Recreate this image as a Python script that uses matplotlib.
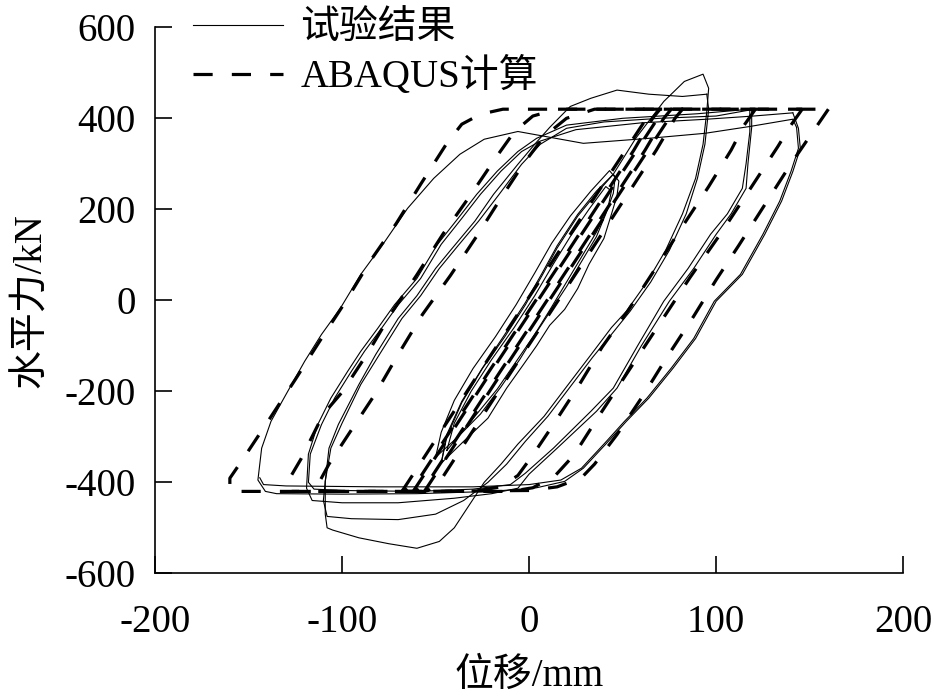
import matplotlib
matplotlib.use("Agg")
import matplotlib.pyplot as plt

plt.rcParams['font.family'] = ['Liberation Serif', 'Noto Sans CJK SC']
plt.rcParams['axes.unicode_minus'] = False

# ---- test results (solid): displacement mm / force kN ----
lens1_x = [-47, -44, -36, -25, -13, -2, 7, 15, 26, 36, 45, 48, 47, 44, 40, 32, 26, 19, 11, 4, -3, -12, -22, -35, -47]
lens1_y = [-358, -295, -222, -149, -75, -5, 60, 120, 189, 240, 277, 262, 230, 189, 136, 79, 26, -20, -55, -100, -141, -193, -259, -310, -358]
lens2_x = [-50, -47, -40, -30, -18, -7, 3, 12, 22, 33, 43, 46, 45, 41, 36, 28, 20, 12, 4, -5, -15, -26, -38, -50]
lens2_y = [-345, -290, -220, -150, -80, -10, 60, 125, 185, 240, 285, 270, 235, 190, 140, 85, 30, -20, -70, -130, -190, -250, -300, -345]
lens3_x = [-44, -40, -31, -20, -8, 3, 13, 22, 32, 41, 44, 42, 36, 28, 20, 12, 3, -7, -17, -29, -44]
lens3_y = [-330, -270, -200, -130, -60, 10, 80, 140, 200, 250, 240, 200, 150, 95, 40, -15, -75, -135, -195, -255, -330]

cyc95_x = [-47, -44, -36, -25, -13, -2, 7, 15, 26, 36, 45, 57, 72, 83, 93, 96, 95, 93, 89, 82, 73, 63, 52,
           44, 33, 20, 8, -6, -15, -24, -32, -40, -48, -60, -75, -91, -105, -108, -109, -109, -107, -102,
           -91, -82, -70, -60, -50, -42, -29, -19, -6, 3, 11, 22, 33, 47, 64, 82, 95]
cyc95_y = [-358, -300, -225, -150, -80, -10, 55, 115, 185, 235, 277, 356, 437, 481, 497, 466, 415, 343, 268, 190, 110, 40, -24,
           -60, -120, -190, -255, -316, -360, -400, -450, -500, -530, -545, -535, -522, -505, -500, -470, -398, -325, -273,
           -185, -119, -40, 10, 70, 110, 174, 233, 299, 343, 380, 426, 444, 462, 453, 448, 453]

cyc95b_x = [95, 96, 94, 90, 84, 75, 65, 54, 45, 34, 22, 10, -2, -12, -22, -35, -50, -70, -95, -108, -110, -109, -106,
            -100, -90, -80, -68, -58, -48, -38, -27, -16, -4, 6, 20, 40, 70, 100, 119]
cyc95b_y = [453, 420, 343, 268, 190, 110, 40, -24, -70, -125, -190, -255, -310, -360, -400, -440, -470, -482, -480, -475, -440, -398, -325,
            -270, -185, -119, -40, 10, 70, 120, 174, 233, 299, 343, 378, 392, 400, 405, 419]

cyc120_x = [119, 119, 117, 116, 108, 100, 88, 75, 60, 47, 36, 15, 0, -6, -20, -40, -70, -100, -116, -119, -118, -113,
            -106, -97, -90, -81, -72, -60, -49, -38, -28, -17, -6, 4, 20, 50, 90, 118]
cyc120_y = [419, 380, 300, 246, 190, 145, 70, -2, -100, -193, -244, -325, -382, -413, -425, -435, -445, -445, -440, -413, -338, -273,
            -215, -156, -112, -62, -10, 48, 123, 180, 233, 284, 327, 356, 385, 400, 410, 420]

cyc120b_x = [118, 118, 116, 114, 106, 97, 85, 72, 58, 45, 33, 13, -2, -10, -30, -60, -100, -115, -118, -117, -111,
             -104, -95, -88, -79, -70, -58, -47, -36, -26, -15, -4, 6, 25, 60, 95, 120, 141]
cyc120b_y = [420, 370, 300, 246, 190, 145, 70, -2, -100, -193, -244, -325, -380, -405, -415, -420, -418, -415, -400, -338, -273,
             -215, -156, -112, -62, -10, 48, 123, 180, 233, 284, 327, 350, 375, 390, 398, 405, 412]

cyc143_x = [141, 144, 145, 141, 135, 126, 114, 100, 89, 77, 64, 52, 41, 29, 19, 4, -20, -60, -100, -135, -141, -145,
            -143, -138, -130, -120, -111, -101, -90, -77, -65, -51, -37, -24, -6, 29, 64, 94, 118, 141, 143]
cyc143_y = [412, 378, 334, 283, 218, 145, 57, -2, -84, -149, -215, -266, -316, -369, -398, -412, -420, -425, -426, -425, -420, -395,
            -325, -266, -207, -134, -75, -18, 57, 130, 202, 268, 321, 354, 371, 345, 356, 367, 382, 398, 380]

cyc143b_x = [143, 144, 140, 134, 125, 113, 99, 88, 76, 63, 51, 40, 28, 17, 0, -30, -80, -130, -142, -144]
cyc143b_y = [380, 334, 283, 218, 145, 57, -2, -84, -149, -215, -266, -316, -369, -395, -405, -410, -410, -408, -405, -390]

# ---- ABAQUS results (dashed) ----
fe160_x = [160, 153, 140, 126, 112, 100, 88, 74, 61, 47, 35, 28, 15, 0, -60, -120, -160, -160, -153, -139, -125, -112,
           -98, -85, -71, -58, -44, -36, -26, -14, 40, 100, 160]
fe160_y = [420, 378, 300, 210, 120, 45, -35, -123, -209, -295, -360, -390, -410, -418, -420, -420, -420, -391, -349, -262, -174, -90,
           -2, 86, 169, 255, 345, 387, 409, 420, 420, 420, 420]
fe146_x = [146, 140, 133, 119, 103, 86, 70, 54, 38, 24, 14, 2, -10, -60, -128, -128, -122, -110, -100, -86, -73, -60,
           -46, -31, -17, -8, 2, 15, 80, 146]
fe146_y = [420, 385, 338, 250, 150, 50, -50, -150, -250, -340, -385, -412, -420, -420, -420, -391, -349, -250, -202, -114, -24, 56,
           146, 233, 318, 370, 405, 420, 420, 420]
fe121_x = [121, 115, 108, 96, 80, 66, 53, 39, 26, 12, 2, -6, -15, -30, -70, -112, -112, -107, -96, -82, -70, -57,
           -42, -28, -15, -3, 8, 20, 35, 80, 121]
fe121_y = [420, 385, 330, 250, 150, 60, -22, -103, -191, -279, -340, -385, -410, -420, -420, -420, -398, -360, -291, -204, -119, -31,
           55, 141, 225, 300, 360, 400, 420, 420, 420]
fe_small1_x = [-68, -64, -30, 10, 50, 62, 66, 70, 66, 56, 18, -22, -60, -66, -68]
fe_small1_y = [-420, -395, -180, 70, 320, 395, 415, 420, 400, 330, 90, -160, -400, -418, -420]
fe_small2_x = [-62, -58, -24, 16, 56, 68, 72, 76, 72, 62, 24, -16, -54, -60, -62]
fe_small2_y = [-420, -395, -180, 70, 320, 395, 415, 420, 400, 330, 90, -160, -400, -418, -420]
fe_small3_x = [-56, -52, -18, 22, 62, 74, 78, 82, 78, 68, 30, -10, -48, -54, -56]
fe_small3_y = [-420, -395, -180, 70, 320, 395, 415, 420, 400, 330, 90, -160, -400, -418, -420]

xticks = [-200, -100, 0, 100, 200]
yticks = [-600, -400, -200, 0, 200, 400, 600]

fig = plt.figure(figsize=(9.34, 7.0), dpi=100)
ax = fig.add_axes([0.166, 0.181, 0.801, 0.780])

test_loops = [(lens1_x, lens1_y), (lens2_x, lens2_y), (lens3_x, lens3_y),
              (cyc95_x, cyc95_y), (cyc95b_x, cyc95b_y), (cyc120_x, cyc120_y),
              (cyc120b_x, cyc120b_y), (cyc143_x, cyc143_y), (cyc143b_x, cyc143b_y)]
fe_loops = [(fe160_x, fe160_y), (fe146_x, fe146_y), (fe121_x, fe121_y),
            (fe_small1_x, fe_small1_y), (fe_small2_x, fe_small2_y), (fe_small3_x, fe_small3_y)]

for i, (xs, ys) in enumerate(test_loops):
    ax.plot(xs, ys, color='black', lw=0.8, label='试验结果' if i == 0 else None)
for i, (xs, ys) in enumerate(fe_loops):
    ax.plot(xs, ys, color='black', lw=2.3, linestyle=(0, (6, 6)),
            label='ABAQUS计算' if i == 0 else None)

ax.set_xlim(-200, 200)
ax.set_ylim(-600, 600)
ax.set_xticks(xticks)
ax.set_yticks(yticks)
ax.spines['top'].set_visible(False)
ax.spines['right'].set_visible(False)
for s in ('left', 'bottom'):
    ax.spines[s].set_linewidth(1.2)
ax.tick_params(direction='in', length=12, width=1.2, labelsize=28)
ax.tick_params(axis='x', pad=22)
ax.tick_params(axis='y', pad=14)
ax.set_xlabel('位移/mm', fontsize=28, labelpad=12)
ax.set_ylabel('水平力/kN', fontsize=28, labelpad=10)

ax.legend(loc='upper left', bbox_to_anchor=(0.207, 0.985), bbox_transform=fig.transFigure,
          frameon=False, fontsize=28, borderpad=0, borderaxespad=0,
          handlelength=2.3, handletextpad=0.45, labelspacing=0.25)

fig.savefig('out.png', dpi=100)
